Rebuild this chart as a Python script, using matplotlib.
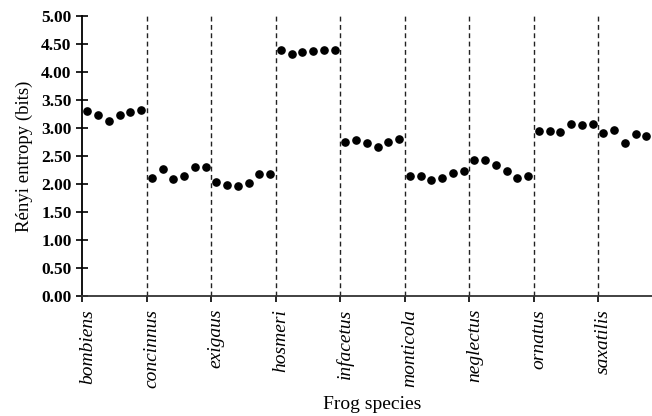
# Renyi entropy of call recordings, grouped by frog species

import matplotlib.pyplot as plt

species = ['bombiens', 'concinnus', 'exigaus', 'hosmeri', 'infacetus',
           'monticola', 'neglectus', 'ornatus', 'saxatilis']

bombiens = [3.30, 3.23, 3.13, 3.23, 3.29, 3.33]
concinnus = [2.12, 2.27, 2.10, 2.14, 2.30, 2.30]
exigaus = [2.04, 1.98, 1.97, 2.02, 2.18, 2.18]
hosmeri = [4.40, 4.32, 4.35, 4.38, 4.39, 4.40]
infacetus = [2.76, 2.79, 2.73, 2.67, 2.76, 2.81]
monticola = [2.15, 2.15, 2.08, 2.12, 2.21, 2.23]
neglectus = [2.44, 2.43, 2.34, 2.24, 2.12, 2.14]
ornatus = [2.95, 2.95, 2.93, 3.08, 3.05, 3.07]
saxatilis = [2.92, 2.96, 2.74, 2.90, 2.86]

groups = [bombiens, concinnus, exigaus, hosmeri, infacetus,
          monticola, neglectus, ornatus, saxatilis]
per_group = 6

plt.rcParams['font.family'] = 'Liberation Serif'

fig = plt.figure(figsize=(6.52, 4.16), dpi=100)
# axis runs a little past the right edge, as in the published figure
ax = fig.add_axes([0.1258, 0.2873, 0.8903, 0.6742])

for g, vals in enumerate(groups):
    xs = [g * per_group + i for i in range(len(vals))]
    ax.plot(xs, vals, 'o', color='black', markersize=5.2, linestyle='none')

# dashed separators between species
for g in range(1, len(species)):
    ax.axvline(g * per_group - 0.5, ymin=0, ymax=1, color='#222222',
               linestyle=(0, (3.5, 2.5)), linewidth=1.0)

ax.set_xlim(-0.5, len(species) * per_group - 0.5)
ax.set_ylim(0, 5)
ax.set_yticks([i * 0.5 for i in range(11)])
ax.set_yticklabels(['%.2f' % (i * 0.5) for i in range(11)],
                   fontsize=12.5, fontweight='bold')

# major ticks mark group boundaries, minor ticks carry the species names
ax.set_xticks([g * per_group - 0.5 for g in range(len(species))], minor=False)
ax.set_xticklabels([])
ax.set_xticks([g * per_group for g in range(len(species))], minor=True)
ax.set_xticklabels(species, minor=True, rotation=90, style='italic',
                   fontsize=14, va='top', ha='center')
ax.tick_params(axis='x', which='minor', length=0, pad=9)
ax.tick_params(axis='x', which='major', direction='out', length=4, width=1.2)
ax.tick_params(axis='y', direction='inout', length=9, width=1.2, pad=3)

for side in ['top', 'right']:
    ax.spines[side].set_visible(False)
ax.spines['left'].set_linewidth(1.3)
ax.spines['bottom'].set_linewidth(1.3)
ax.spines['bottom'].set_color('#333333')

ax.set_ylabel('Rényi entropy (bits)', fontsize=13.5, labelpad=6)
ax.set_xlabel('Frog species', fontsize=14)
ax.xaxis.set_label_coords(0.5, -0.385)
ax.xaxis.label.set_va('center')

fig.savefig('out.png', dpi=100)
